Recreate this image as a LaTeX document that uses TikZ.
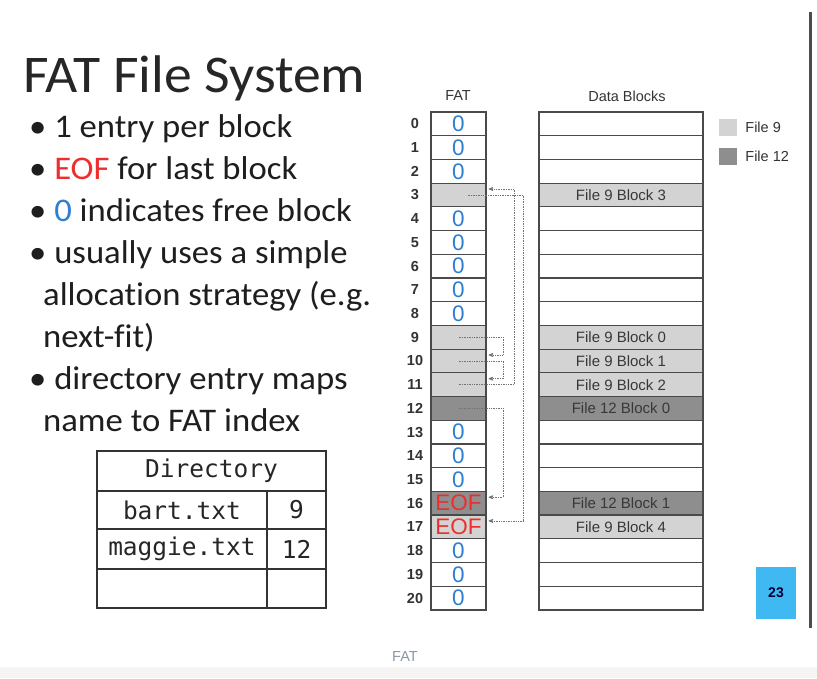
\documentclass[tikz,border=0pt]{standalone}
\usepackage{fontspec}
\setmainfont{Carlito}[FakeStretch=1.05,Ligatures=NoCommon]
\newfontfamily\diagfont{Liberation Sans}
\newfontfamily\dirfont{DejaVu Sans Mono}
\usetikzlibrary{arrows,positioning}

\definecolor{file9}{HTML}{D3D3D3}
\definecolor{file12}{HTML}{8E8E8E}
\definecolor{zeroblue}{HTML}{2F7FD0}
\definecolor{eofred}{HTML}{EE2E2E}
\definecolor{cellline}{HTML}{4A4A4A}
\definecolor{slidetext}{HTML}{1E1E1E}
\definecolor{pageblue}{HTML}{40B9F3}
\definecolor{captiongray}{HTML}{8C97A3}

\newcommand{\fatfree}{\textcolor{zeroblue}{0}}
\newcommand{\fateof}{\textcolor{eofred}{EOF}}

\begin{document}
\begin{tikzpicture}[x=1pt,y=-1pt,>=stealth',
    fatcell/.style={draw=cellline,line width=1.2pt,minimum width=55pt,minimum height=23.71pt,inner sep=0pt,
      font=\diagfont\fontsize{22.5}{22.5}\selectfont},
    blkcell/.style={draw=cellline,line width=1.2pt,minimum width=164pt,minimum height=23.71pt,inner sep=0pt,
      text=black!78,font=\diagfont\fontsize{15}{15}\selectfont},
    idx/.style={text=black!80,font=\diagfont\bfseries\fontsize{14.5}{14.5}\selectfont},
    head/.style={text=black!80,font=\diagfont\fontsize{14.5}{14.5}\selectfont},
    legbox/.style={minimum width=18pt,minimum height=17pt,inner sep=0pt},
    bullet/.style={anchor=base west,inner sep=0pt,text=slidetext,font=\fontsize{33}{42}\selectfont},
    dircell/.style={draw=black!80,line width=1.1pt,inner sep=0pt,text=black!85,font=\dirfont\fontsize{24.5}{24.5}\selectfont},
    link/.style={->,densely dotted,draw=black!55,line width=0.7pt,shorten >=2pt}]

  \useasboundingbox (0,0) rectangle (817,678);
  \fill[white] (0,0) rectangle (817,678);
  \fill[black!4] (0,667) rectangle (817,678);

  % slide text
  \node[anchor=base west,inner sep=0pt,text=black!85,font=\fontsize{53}{60}\selectfont] (title) at (23,92) {FAT File System};
  \node[bullet] (b1) at (29,137) {• 1 entry per block};
  \node[bullet] (b2) at (29,179) {• \textcolor{eofred}{EOF} for last block};
  \node[bullet] (b3) at (29,221) {• \textcolor{zeroblue}{0} indicates free block};
  \node[bullet] (b4) at (29,263) {• usually uses a simple};
  \node[bullet] (b5) at (43,305) {allocation strategy (e.g.};
  \node[bullet] (b6) at (43,347) {next-fit)};
  \node[bullet] (b7) at (29,389) {• directory entry maps};
  \node[bullet] (b8) at (43,431) {name to FAT index};

  % directory
  \node[dircell,minimum width=229pt,minimum height=40pt] (dirhead) at (211.5,471) {Directory};
  \node[dircell,minimum width=170pt,minimum height=38pt] (bart) at (182,510) {bart.txt};
  \node[dircell,minimum width=59pt,minimum height=38pt] (bartidx) at (296.5,510) {9};
  \node[dircell,minimum width=170pt,minimum height=40pt] (maggie) at (182,549) {maggie.txt};
  \node[dircell,minimum width=59pt,minimum height=40pt] (maggieidx) at (296.5,549) {12};
  \node[dircell,minimum width=170pt,minimum height=39pt] (free1) at (182,588.5) {};
  \node[dircell,minimum width=59pt,minimum height=39pt] (free2) at (296.5,588.5) {};

  % FAT and data blocks
  \node[head] (fathead) at (458,96) {FAT};
  \node[head] (blkhead) at (627,96) {Data Blocks};

  \foreach \i/\col/\val/\txt in {0/white/\fatfree/{}, 1/white/\fatfree/{}, 2/white/\fatfree/{},
      3/file9/{}/File 9 Block 3, 4/white/\fatfree/{}, 5/white/\fatfree/{}, 6/white/\fatfree/{},
      7/white/\fatfree/{}, 8/white/\fatfree/{}, 9/file9/{}/File 9 Block 0, 10/file9/{}/File 9 Block 1,
      11/file9/{}/File 9 Block 2, 12/file12/{}/File 12 Block 0, 13/white/\fatfree/{}, 14/white/\fatfree/{},
      15/white/\fatfree/{}, 16/file12/\fateof/File 12 Block 1, 17/file9/\fateof/File 9 Block 4,
      18/white/\fatfree/{}, 19/white/\fatfree/{}, 20/white/\fatfree/{}} {
    \node[idx] (idx\i) at (415,{112+(\i+0.5)*23.71}) {\i};
    \node[fatcell,fill=\col] (fat\i) at (458.5,{112+(\i+0.5)*23.71}) {\val};
    \node[blkcell,fill=\col] (blk\i) at (621,{112+(\i+0.5)*23.71}) {\txt};
  }

  % chains
  \coordinate (laneA) at (503,0);
  \coordinate (laneB) at (514,0);
  \coordinate (laneC) at (523,0);
  \foreach \from/\to/\lane/\dx in {9/10/laneA/0, 10/11/laneA/0, 12/16/laneA/0, 11/3/laneB/0, 3/17/laneC/9}
    \draw[link] ([xshift=\dx pt]fat\from.center) -- (fat\from.center -| \lane) |- ([yshift=6pt]fat\to.east);

  % legend
  \node[legbox,fill=file9] (leg9) at (728,127) {};
  \node[legbox,fill=file12] (leg12) at (728,156) {};
  \node[head,right=8pt of leg9,inner sep=0pt] (leg9txt) {File 9};
  \node[head,right=8pt of leg12,inner sep=0pt] (leg12txt) {File 12};

  % slide frame
  \draw[line width=3pt,black!70] (810,12) -- (810,628);
  \node[fill=pageblue,minimum width=40pt,minimum height=52pt,inner sep=0pt,text=black!80!blue,
    font=\diagfont\bfseries\fontsize{14}{14}\selectfont] (pagenum) at (776,593) {23};
  \node[text=captiongray,font=\diagfont\fontsize{14.5}{14.5}\selectfont] (caption) at (405,657) {FAT};
\end{tikzpicture}
\end{document}
